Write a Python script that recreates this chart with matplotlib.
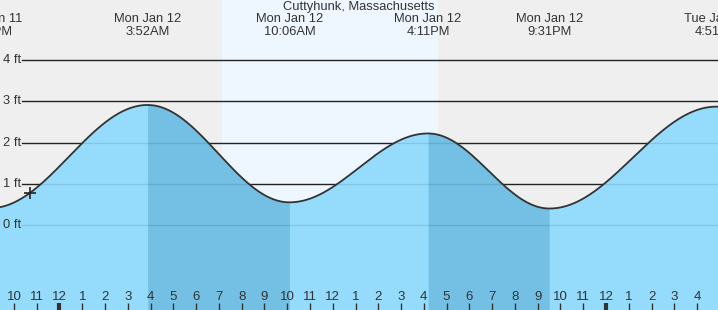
import numpy as np
import matplotlib
matplotlib.use("Agg")
import matplotlib.pyplot as plt

plt.rcParams["font.family"] = ["Liberation Sans", "DejaVu Sans"]

# tide extremes, hours from Mon Jan 12 00:00
ext_hours = [-3.03, 3.867, 10.1, 16.183, 21.517, 28.85]
ext_feet = [0.41, 2.91, 0.55, 2.22, 0.40, 2.87]
ext_kind = ["low", "high", "low", "high", "low", "high"]
ext_day = ["Sun Jan 11", "Mon Jan 12", "Mon Jan 12", "Mon Jan 12", "Mon Jan 12", "Tue Jan 13"]
ext_time = ["8:58PM", "3:52AM", "10:06AM", "4:11PM", "9:31PM", "4:51AM"]

sunrise, sunset = 7.13, 16.62
now_hour = -1.3
levels = [0, 1, 2, 3, 4]
hour_ticks = list(range(-2, 29))

title = "Cuttyhunk, Massachusetts"

x_left, x_right = -2.613, 28.92
y_bot, y_top = -2.06, 5.455

BG = "#efefef"
DAY = "#eef6ff"
LIGHT = "#95dcfc"
DARK = "#73c0e4"
TXT = "#333333"


def tide(h):
    # cosine interpolation between consecutive extremes
    h = np.asarray(h, dtype=float)
    out = np.empty_like(h)
    for i, t in enumerate(h):
        j = np.searchsorted(ext_hours, t) - 1
        j = min(max(j, 0), len(ext_hours) - 2)
        t0, t1 = ext_hours[j], ext_hours[j + 1]
        y0, y1 = ext_feet[j], ext_feet[j + 1]
        f = (1 - np.cos(np.pi * (t - t0) / (t1 - t0))) / 2
        out[i] = y0 + (y1 - y0) * f
    return out


fig = plt.figure(figsize=(7.18, 3.10), dpi=100)
ax = fig.add_axes([0, 0, 1, 1])
ax.set_xlim(x_left, x_right)
ax.set_ylim(y_bot, y_top)
ax.axis("off")
ax.add_patch(plt.Rectangle((x_left, y_bot), x_right - x_left, y_top - y_bot,
                           color=BG, zorder=0))
ax.axvspan(sunrise, sunset, color=DAY, zorder=0.5, lw=0)

# grid lines
line_start = x_left + 22 / 22.77
for lv in levels:
    ax.plot([line_start, x_right], [lv, lv], color="#222222", lw=1, zorder=1)
    ax.text(x_left + 0.15, lv, f"{lv} ft", ha="left", va="center",
            fontsize=9.3, color=TXT, zorder=6)

hh = np.linspace(x_left - 0.1, x_right + 0.1, 1500)
yy = tide(hh)
base = ax.fill_between(hh, y_bot - 1, yy, color=LIGHT, lw=0, zorder=2)

# falling tide (high -> next low) shaded darker
for i in range(len(ext_hours) - 1):
    if ext_kind[i] == "high":
        m = (hh >= ext_hours[i]) & (hh <= ext_hours[i + 1])
        ax.fill_between(hh[m], y_bot - 1, yy[m], color=DARK, lw=0, zorder=2.5)

clip = base.get_paths()[0]
for lv in levels:
    ln, = ax.plot([line_start, x_right], [lv, lv], color=(0, 0, 0, 0.1),
                  lw=1, zorder=3)
    ln.set_clip_path(clip, transform=ax.transData)

ax.plot(hh, yy, color="#333333", lw=1.3, zorder=4)
ax.plot([now_hour], tide([now_hour]), marker="+", color="#222222",
        ms=9, mew=1.2, zorder=5)

# extreme labels on top
for t, d, tm in zip(ext_hours, ext_day, ext_time):
    ax.text(t, 4.99, d, ha="center", va="center", fontsize=9.3,
            color=TXT, zorder=6)
    ax.text(t, 4.68, tm, ha="center", va="center", fontsize=9.3,
            color=TXT, zorder=6)
ax.text((x_left + x_right) / 2, 5.29, title, ha="center", va="center",
        fontsize=9.3, color=TXT, zorder=6)

# hour ticks along the bottom
for h in hour_ticks:
    hr = h % 12
    hr = 12 if hr == 0 else hr
    ax.text(h, -1.74, str(hr), ha="center", va="center", fontsize=9.5,
            color=TXT, zorder=6)
    lw = 3 if h % 24 == 0 else 1
    ax.plot([h, h], [-1.89, y_bot], color="#333333", lw=lw, zorder=6,
            solid_capstyle="butt")

fig.savefig("out.png", dpi=100, facecolor=BG)
